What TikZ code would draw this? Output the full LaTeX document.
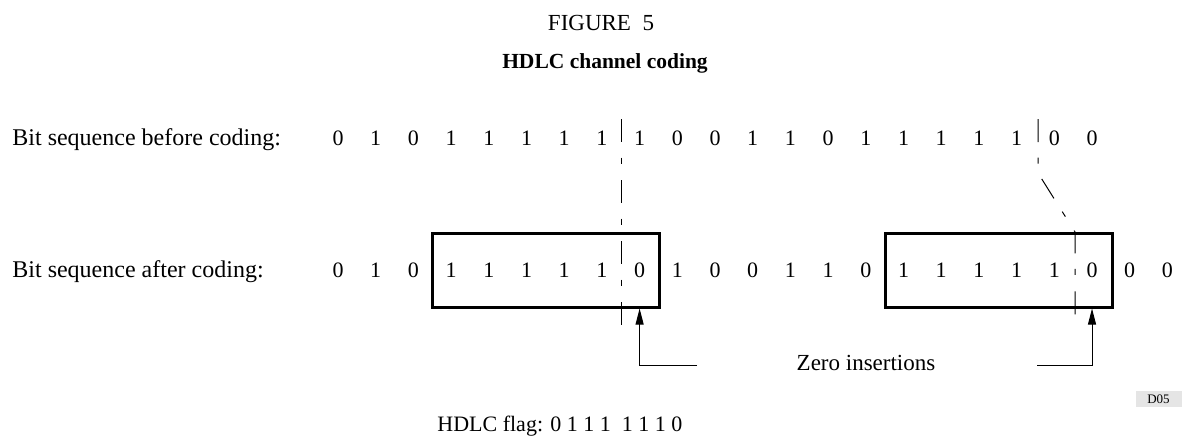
\documentclass[tikz,border=0pt]{standalone}
\usepackage{fontspec}
\setmainfont{Liberation Serif}
\usetikzlibrary{arrows.meta}

\tikzset{
  bit/.style={inner sep=0pt, font=\fontsize{11}{13}\selectfont},
  rowlabel/.style={inner sep=0pt, anchor=base west, font=\fontsize{12}{14}\selectfont},
  flagbox/.style={draw, line width=1.5pt, minimum width=113.5pt, minimum height=37pt, inner sep=0pt},
  cutline/.style={line width=0.5pt, dash pattern=on 11.5pt off 7.75pt on 3pt off 8.25pt},
  zarrow/.style={line width=0.5pt, -{Triangle[length=8pt,width=4pt]}},
}

\begin{document}
\begin{tikzpicture}[x=0.5pt,y=-0.5pt]
\useasboundingbox (0,0) rectangle (1182,436);
% headings
\node[inner sep=0pt, font=\fontsize{11.5}{14}\selectfont] (fig) at (601,23) {FIGURE\ \ 5};
\node[inner sep=0pt, font=\bfseries\fontsize{10.75}{13}\selectfont] (title) at (605,63) {HDLC channel coding};
% the two bit rows
\node[rowlabel] (before) at (12,145) {Bit sequence before coding:};
\node[rowlabel] (after) at (12,277) {Bit sequence after coding:};
\foreach \v [count=\k from 0] in {0,1,0,1,1,1,1,1,1,0,0,1,1,0,1,1,1,1,1,0,0}{
	\node[bit] (b\k) at ({338+37.7*\k},138) {\v};}
\foreach \v [count=\k from 0] in {0,1,0,1,1,1,1,1,0,1,0,0,1,1,0,1,1,1,1,1,0,0,0}{
	\node[bit] (a\k) at ({338+37.7*\k},270) {\v};}
% flag windows
\node[flagbox] (flagA) at (545.5,270) {};
\node[flagbox] (flagB) at (998.5,270) {};
% cut marks
\coordinate (cutA) at (621,119);
\coordinate (cutB) at (1038,119);
\draw[cutline] (cutA) -- ++(0,206);
\draw[cutline] (cutB) -- ++(0,54) -- ++(37,59) -- ++(0,84);
% zero insertions
\node[inner sep=0pt, font=\fontsize{11.5}{14}\selectfont] (zins) at (866,363) {Zero insertions};
\coordinate (zA) at (697,365);
\coordinate (zB) at (1037,365);
\draw[zarrow] (zA) -| (a8 |- flagA.south);
\draw[zarrow] (zB) -| (a20 |- flagB.south);
% flag pattern and drawing ref
\node[inner sep=0pt, anchor=base west, font=\fontsize{11}{13}\selectfont] (flag) at (437,431) {HDLC flag: 0 1 1 1\ \ 1 1 1 0};
\node[fill=black!10, minimum width=23pt, minimum height=8pt, inner sep=0pt, font=\fontsize{6.5}{7}\selectfont] (dref) at (1158.5,399) {D05};
\end{tikzpicture}
\end{document}
